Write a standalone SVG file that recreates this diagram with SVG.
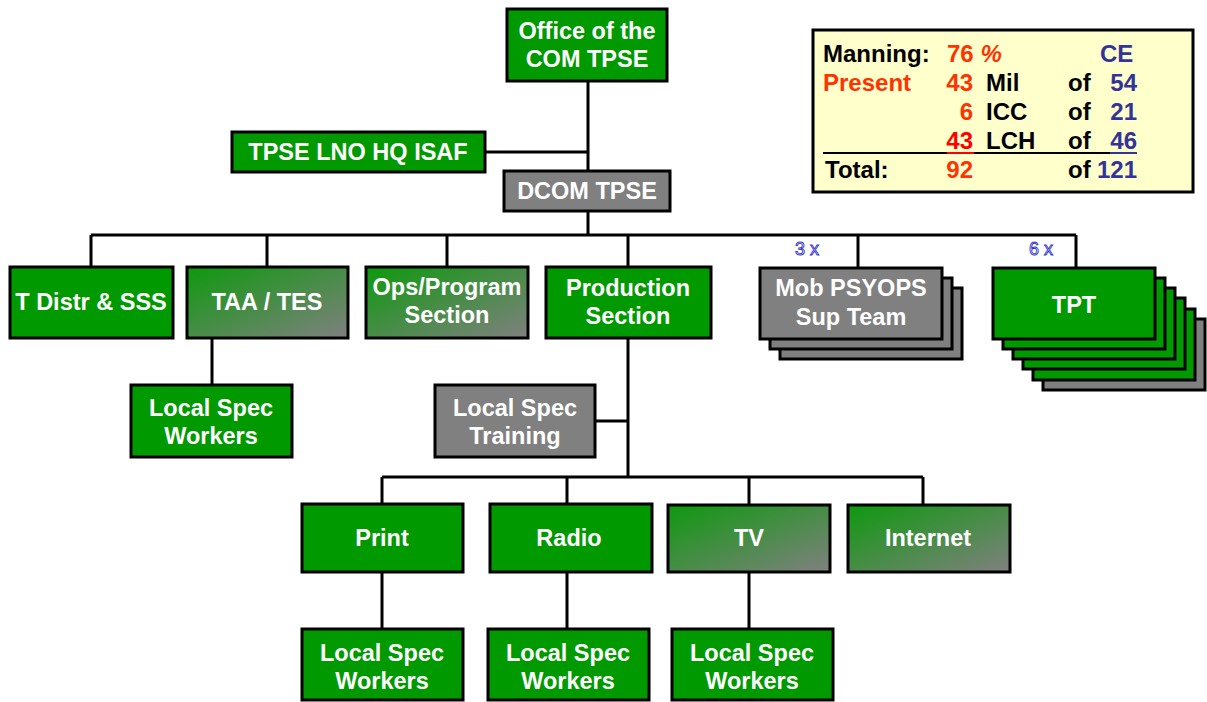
<svg xmlns="http://www.w3.org/2000/svg" width="1207" height="702" viewBox="0 0 1207 702">
<defs>
<linearGradient id="gg" x1="0" y1="0" x2="1" y2="1">
<stop offset="0" stop-color="#0e990e"/>
<stop offset="1" stop-color="#808080"/>
</linearGradient>
<style>
.g{fill:#009900;stroke:#000;stroke-width:3}
.gy{fill:#808080;stroke:#000;stroke-width:3}
.gr{fill:url(#gg);stroke:#000;stroke-width:3}
.t{font-family:"Liberation Sans",Arial,sans-serif;font-weight:bold;font-size:23.5px;fill:#fff;text-anchor:middle}
.m{font-family:"Liberation Sans",Arial,sans-serif;font-weight:bold;font-size:24px}
.k{fill:#000}.r{fill:#ff3300}.b{fill:#333399}
.ln{stroke:#000;stroke-width:3;fill:none}
.x{font-family:"Liberation Sans",Arial,sans-serif;font-size:18px;fill:#fff;stroke:#3333cc;stroke-width:0.9;text-anchor:middle}
</style>
</defs>
<rect width="1207" height="702" fill="#fff"/>
<g id="connectors" class="ln">
<path d="M588 81V172M485 152H588M588 211V235M91 235H1076M91 235V267M267 235V267M447 235V267M628 235V267M858 235V267M1076 235V267"/>
<path d="M212 339V385M628 339V477M595 421H628M382 477H923M382 477V504M567 477V504M749 477V504M923 477V504M382 572V629M567 572V629M749 572V629"/>
</g>
<g id="office"><rect class="g" x="507" y="9" width="160" height="72"/><text class="t" x="587" y="39">Office of the</text><text class="t" x="587" y="67">COM TPSE</text></g>
<g id="lno"><rect class="g" x="232" y="132" width="253" height="40"/><text class="t" x="358" y="160">TPSE LNO HQ ISAF</text></g>
<g id="dcom"><rect class="gy" x="504" y="171" width="166" height="40"/><text class="t" x="587" y="199">DCOM TPSE</text></g>
<g id="tdistr"><rect class="g" x="10" y="267" width="163" height="71"/><text class="t" x="91" y="310">T Distr &amp; SSS</text></g>
<g id="taa"><rect class="gr" x="187" y="267" width="161" height="71"/><text class="t" x="267" y="310">TAA / TES</text></g>
<g id="ops"><rect class="gr" x="366" y="267" width="162" height="71"/><text class="t" x="447" y="295">Ops/Program</text><text class="t" x="447" y="323">Section</text></g>
<g id="production"><rect class="g" x="546" y="267" width="165" height="71"/><text class="t" x="628" y="296">Production</text><text class="t" x="628" y="324">Section</text></g>
<g id="mob">
<rect class="gy" x="780" y="288" width="182" height="71"/>
<rect class="gy" x="770" y="278" width="182" height="71"/>
<rect class="gy" x="760" y="268" width="182" height="71"/>
<text class="t" x="851" y="296">Mob PSYOPS</text><text class="t" x="851" y="325">Sup Team</text>
<text class="x" x="807" y="255">3 x</text>
</g>
<g id="tpt">
<rect class="gy" x="1043" y="319" width="162" height="71"/>
<rect class="g" x="1033" y="309" width="162" height="71"/>
<rect class="g" x="1023" y="298" width="162" height="71"/>
<rect class="g" x="1013" y="288" width="162" height="71"/>
<rect class="g" x="1003" y="278" width="162" height="71"/>
<rect class="g" x="993" y="268" width="162" height="71"/>
<text class="t" x="1074" y="313">TPT</text>
<text class="x" x="1041" y="255">6 x</text>
</g>
<g id="lsw1"><rect class="g" x="131" y="385" width="161" height="72"/><text class="t" x="211" y="416">Local Spec</text><text class="t" x="211" y="444">Workers</text></g>
<g id="lst"><rect class="gy" x="435" y="385" width="160" height="72"/><text class="t" x="515" y="416">Local Spec</text><text class="t" x="515" y="444">Training</text></g>
<g id="print"><rect class="g" x="302" y="504" width="161" height="68"/><text class="t" x="382" y="546">Print</text></g>
<g id="radio"><rect class="g" x="490" y="504" width="162" height="68"/><text class="t" x="569" y="546">Radio</text></g>
<g id="tv"><rect class="gr" x="668" y="505" width="162" height="67"/><text class="t" x="749" y="546">TV</text></g>
<g id="internet"><rect class="gr" x="848" y="505" width="162" height="67"/><text class="t" x="928" y="546">Internet</text></g>
<g id="lsw2"><rect class="g" x="302" y="629" width="161" height="71"/><text class="t" x="382" y="661">Local Spec</text><text class="t" x="382" y="689">Workers</text></g>
<g id="lsw3"><rect class="g" x="488" y="629" width="161" height="71"/><text class="t" x="568" y="661">Local Spec</text><text class="t" x="568" y="689">Workers</text></g>
<g id="lsw4"><rect class="g" x="672" y="629" width="161" height="71"/><text class="t" x="752" y="661">Local Spec</text><text class="t" x="752" y="689">Workers</text></g>
<g id="manning">
<rect x="813" y="30" width="380" height="162" fill="#ffffcc" stroke="#000" stroke-width="3"/>
<g class="m">
<text class="k" x="823" y="62">Manning:</text>
<text class="r" x="947" y="62">76 <tspan font-style="italic">%</tspan></text>
<text class="b" x="1100" y="62">CE</text>
<text class="r" x="823" y="91">Present</text>
<text class="r" x="973" y="91" text-anchor="end">43</text>
<text class="k" x="986" y="91">Mil</text>
<text class="k" x="1068" y="91">of</text>
<text class="b" x="1137" y="91" text-anchor="end">54</text>
<text class="r" x="973" y="120" text-anchor="end">6</text>
<text class="k" x="986" y="120">ICC</text>
<text class="k" x="1068" y="120">of</text>
<text class="b" x="1137" y="120" text-anchor="end">21</text>
<text x="973" y="149" text-anchor="end" fill="#ff0000">43</text>
<text class="k" x="986" y="149">LCH</text>
<text class="k" x="1068" y="149">of</text>
<text class="b" x="1137" y="149" text-anchor="end">46</text>
<text class="k" x="825" y="178">Total:</text>
<text class="r" x="973" y="178" text-anchor="end">92</text>
<text class="k" x="1068" y="178">of</text>
<text class="b" x="1137" y="178" text-anchor="end">121</text>
</g>
<path d="M823 153H947" stroke="#000" stroke-width="2"/>
<path d="M947 153H974" stroke="#ff0000" stroke-width="2"/>
<path d="M974 153H1110" stroke="#000" stroke-width="2"/>
<path d="M1110 153H1137" stroke="#333399" stroke-width="2"/>
</g>
</svg>
